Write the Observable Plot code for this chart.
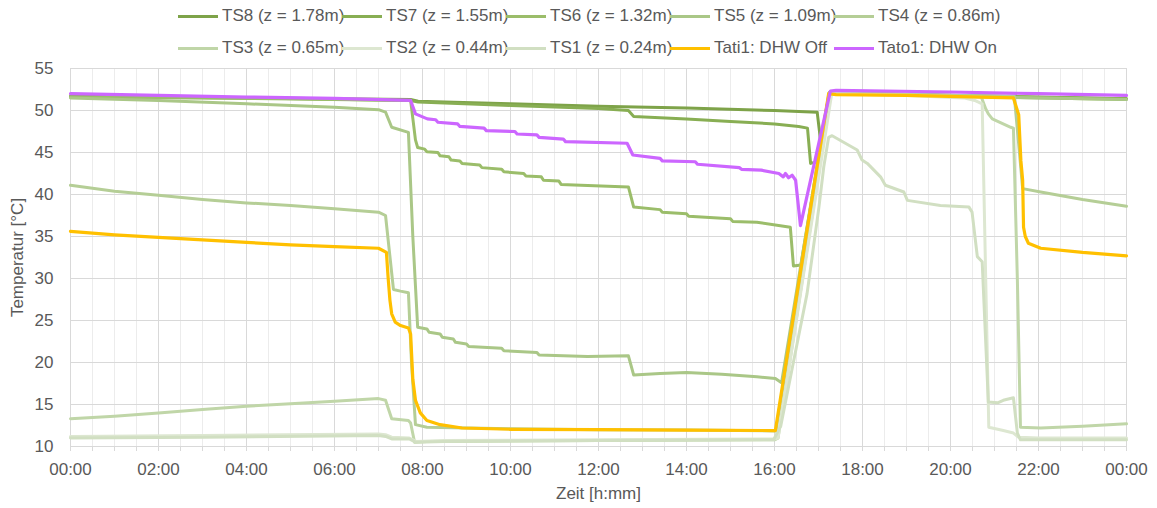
<!DOCTYPE html>
<html><head><meta charset="utf-8">
<script src="https://cdn.jsdelivr.net/npm/d3@7"></script>
<script src="https://cdn.jsdelivr.net/npm/@observablehq/plot@0.6"></script>
<style>
body{margin:0;background:#fff;font-family:"Liberation Sans Narrow","Liberation Sans",sans-serif;color:#595959;}
#legend{height:60px;position:relative;width:1157px;}
.item{position:absolute;display:flex;align-items:center;font-size:17px;white-space:nowrap;}
.sw{width:40px;height:3px;margin-right:4px;}
</style></head>
<body>
<div id="legend"></div>
<div id="chart"></div>
<script>
// time in hours (0..24), temperature in °C
const ts8 = [[0,51.7],[2,51.6],[4,51.5],[6,51.4],[7.73,51.3],[7.9,51.1],[8.5,51.0],[10,50.8],[12,50.5],[14,50.3],[16,50.0],[16.97,49.8],[17.05,46.3],[17.25,52.1],[19,51.9],[21,51.7],[24,51.4]];
const ts7 = [[0,51.6],[4,51.5],[7.73,51.2],[7.9,51.0],[8.5,50.9],[10,50.6],[12,50.25],[12.68,50.0],[12.8,49.3],[14,49.0],[15,48.7],[16,48.4],[16.55,48.1],[16.75,47.9],[16.82,43.7],[16.97,43.9],[17.25,52.1],[19,51.9],[21,51.7],[24,51.4]];
const ts6 = [[0,51.6],[4,51.45],[7.73,51.2],[7.84,46.5],[7.89,45.6],[8.05,45.4],[8.1,45.1],[8.35,45.0],[8.4,44.6],[8.6,44.5],[8.65,44.1],[8.85,44.0],[8.9,43.7],[9.3,43.5],[9.35,43.2],[9.8,43.0],[9.85,42.7],[10.3,42.5],[10.35,42.2],[10.7,42.1],[10.75,41.7],[11.1,41.6],[11.15,41.2],[11.6,41.1],[12.68,40.9],[12.8,38.5],[13.4,38.2],[13.45,37.9],[14,37.7],[14.05,37.4],[15,37.1],[15.05,36.8],[15.6,36.7],[16.36,36.1],[16.43,31.5],[16.6,31.6],[17.25,52.1],[19,51.9],[21,51.6],[24,51.3]];
const ts5 = [[0,51.5],[2,51.2],[4,50.8],[6,50.4],[7.0,50.1],[7.16,49.8],[7.3,48.0],[7.68,47.4],[7.78,35],[7.89,24.2],[8.1,24.0],[8.15,23.6],[8.4,23.4],[8.45,23.0],[8.7,22.8],[8.75,22.4],[9.0,22.2],[9.05,21.9],[9.8,21.7],[9.85,21.4],[10.6,21.2],[10.65,20.9],[11.75,20.7],[12.68,20.8],[12.8,18.5],[13.4,18.7],[14,18.8],[14.8,18.6],[15.6,18.3],[16.02,18.1],[16.16,17.6],[17.24,52.1],[19,51.9],[21,51.6],[24,51.3]];
const ts4 = [[0,41.1],[1,40.4],[2,39.9],[3,39.4],[4,39.0],[5,38.7],[6,38.3],[7.0,37.9],[7.16,37.5],[7.34,28.7],[7.5,28.5],[7.68,28.3],[7.75,20],[7.84,12.6],[8.1,12.3],[10,12.1],[12,12.0],[14,11.95],[16.03,11.85],[17.25,52.0],[19,51.9],[21.45,51.7],[21.55,46],[21.64,40.7],[22.05,40.3],[23,39.4],[24,38.6]];
const ts3 = [[0,13.3],[1,13.6],[2,14.0],[3,14.4],[4,14.8],[5,15.1],[6,15.4],[7.0,15.7],[7.16,15.5],[7.3,13.3],[7.68,13.1],[7.73,12.8],[7.82,10.5],[8.1,10.6],[12,10.7],[16.0,10.8],[16.08,11.0],[17.28,52.0],[19,51.9],[20.7,51.6],[20.8,50.2],[20.86,49.6],[20.95,49.0],[21.37,48.0],[21.43,47.9],[21.52,29.8],[21.59,12.3],[22.05,12.2],[23,12.4],[24,12.7]];
const ts2 = [[0,11.2],[3,11.3],[7.0,11.5],[7.16,11.4],[7.3,11.1],[7.7,11.0],[7.85,10.6],[8.5,10.7],[12,10.8],[16.0,10.9],[16.08,11.0],[17.3,52.0],[19,51.8],[20.3,51.5],[20.55,51.2],[20.72,50.8],[20.8,30],[20.87,12.3],[21.2,11.9],[21.43,11.6],[21.55,11.1],[22,11.0],[24,11.0]];
const ts1 = [[0,11.0],[3,11.1],[7.0,11.3],[7.16,11.2],[7.3,10.9],[7.7,10.9],[7.85,10.5],[8.5,10.6],[12,10.7],[15.98,10.8],[16.14,12.4],[16.44,20.3],[16.74,28.2],[17.01,38.5],[17.12,43.3],[17.23,46.8],[17.31,47.0],[17.88,45.3],[17.99,44.1],[18.11,43.7],[18.41,42.1],[18.52,41.1],[18.94,40.3],[19.02,39.3],[19.77,38.7],[20.42,38.5],[20.49,37.9],[20.61,32.6],[20.72,32.0],[20.86,15.3],[21.07,15.2],[21.2,15.5],[21.43,15.8],[21.52,11.6],[21.59,10.8],[24,10.8]];
const tati1 = [[0,35.6],[1,35.2],[2,34.9],[3,34.6],[4,34.3],[5,34.0],[6,33.8],[7.0,33.6],[7.18,33.1],[7.22,30],[7.26,27.4],[7.3,25.8],[7.38,24.8],[7.5,24.4],[7.68,24.1],[7.73,23.4],[7.78,18],[7.84,15.5],[7.95,14.0],[8.1,13.1],[8.4,12.6],[8.9,12.2],[10,12.05],[12,12.0],[14,11.95],[16.02,11.9],[17.23,52.0],[17.4,51.9],[19,51.8],[21.43,51.5],[21.55,49.5],[21.6,44],[21.64,41.7],[21.66,36.1],[21.7,35],[21.77,34.2],[22.05,33.6],[23,33.1],[24,32.7]];
const tato1 = [[0,52.0],[2,51.8],[4,51.6],[6,51.45],[7.73,51.2],[7.84,49.6],[8.11,49.0],[8.3,48.9],[8.35,48.6],[8.8,48.4],[8.85,48.1],[9.4,47.9],[9.45,47.6],[10.1,47.5],[10.15,47.2],[10.6,47.1],[10.65,46.8],[11.2,46.6],[11.25,46.3],[12.65,46.1],[12.78,44.7],[13.4,44.3],[13.45,44.0],[14.2,43.9],[14.25,43.6],[15.2,43.2],[15.25,43.0],[15.7,42.9],[16.1,42.5],[16.2,42.1],[16.25,42.5],[16.32,42.0],[16.4,42.3],[16.48,41.7],[16.59,36.3],[17.27,52.3],[17.4,52.4],[20,52.2],[22,52.0],[24,51.8]];

const seriesNames = ["TS8 (z = 1.78m)","TS7 (z = 1.55m)","TS6 (z = 1.32m)","TS5 (z = 1.09m)","TS4 (z = 0.86m)","TS3 (z = 0.65m)","TS2 (z = 0.44m)","TS1 (z = 0.24m)","Tati1: DHW Off","Tato1: DHW On"];
const seriesData = [ts8, ts7, ts6, ts5, ts4, ts3, ts2, ts1, tati1, tato1];
const seriesColors = ["#7ea349","#88ae53","#9bbd6a","#aac787","#b5ce96","#c0d6a8","#dde7d1","#d1dfc2","#ffc000","#cc66ff"];
const xTicks = [0,2,4,6,8,10,12,14,16,18,20,22,24];
const xTickLabels = ["00:00","02:00","04:00","06:00","08:00","10:00","12:00","14:00","16:00","18:00","20:00","22:00","00:00"];
const yTicks = [10,15,20,25,30,35,40,45,50,55];

// legend
const leg = document.getElementById("legend");
seriesNames.forEach((n,i)=>{
  const col = i%5, row = Math.floor(i/5);
  const d = document.createElement("div");
  d.className="item";
  d.style.left = (178 + col*164) + "px";
  d.style.top = (row===0 ? 6 : 38) + "px";
  d.innerHTML = `<span class="sw" style="background:${seriesColors[i]}"></span><span>${n}</span>`;
  leg.appendChild(d);
});

const rows = seriesData.flatMap((arr,i)=>arr.map(([t,v])=>({t,v,s:seriesNames[i]})));
const minor = d3.range(0,24.001,0.5);

const chart = Plot.plot({
  width:1157, height:448,
  marginTop:8, marginBottom:62, marginLeft:70, marginRight:31,
  style:{fontFamily:'"Liberation Sans Narrow","Liberation Sans",sans-serif', fontSize:"17px", color:"#595959", background:"#fff"},
  x:{domain:[0,24]},
  y:{domain:[10,55]},
  color:{domain:seriesNames, range:seriesColors},
  marks:[
    Plot.gridX(minor,{stroke:"#ececec", strokeOpacity:1, strokeWidth:1}),
    Plot.gridX(xTicks,{stroke:"#d9d9d9", strokeOpacity:1, strokeWidth:1}),
    Plot.gridY(yTicks,{stroke:"#d9d9d9", strokeOpacity:1, strokeWidth:1}),
    Plot.axisX(minor,{tickSize:5, text:null, stroke:"#d9d9d9", label:null}),
    Plot.axisX(xTicks,{tickSize:0, tickPadding:16, tickFormat:(d)=>xTickLabels[xTicks.indexOf(d)], label:"Zeit [h:mm]", labelAnchor:"center", labelArrow:"none", labelOffset:52, fill:"#595959"}),
    Plot.axisY(yTicks,{tickSize:0, tickPadding:17, label:"Temperatur [°C]", labelAnchor:"center", labelArrow:"none", labelOffset:60, fill:"#595959"}),
    ...seriesNames.map((n,i)=>Plot.line(rows.filter(r=>r.s===n),{x:"t", y:"v", stroke:()=>n, strokeWidth: i>=8 ? 3.2 : 3, strokeLinejoin:"round", strokeLinecap:"round"}))
  ]
});
document.getElementById("chart").appendChild(chart);
</script>
</body></html>
